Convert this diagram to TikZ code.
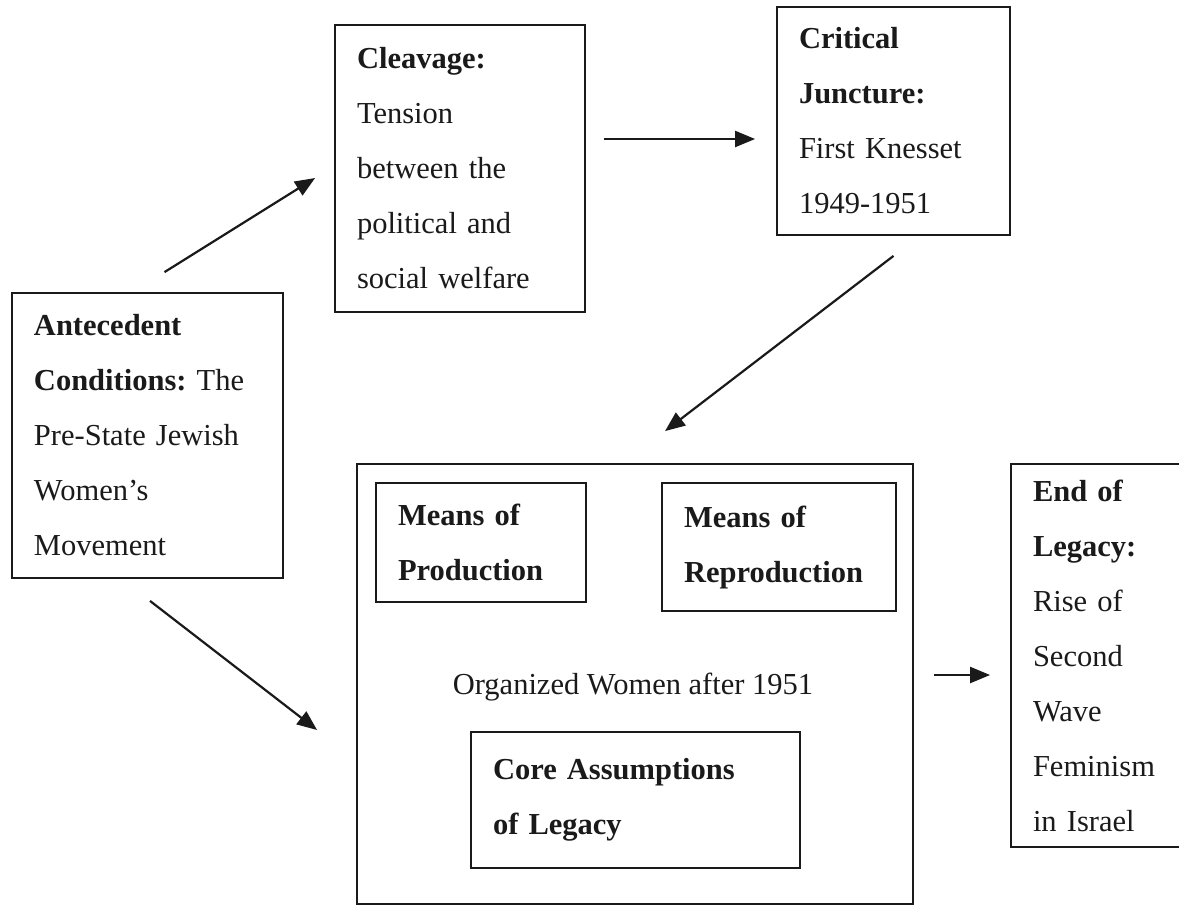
\documentclass[tikz,border=0pt]{standalone}
\usepackage{fontspec}
\setmainfont{Liberation Serif}
\usepackage{tikz}
\usetikzlibrary{
  arrows.meta,
  positioning,
  calc
}
\frenchspacing
\definecolor{isInk}{HTML}{1A1A1A}
\tikzset{
  stagebox/.style={
    draw=isInk, line width=1.8pt, align=left, inner xsep=22pt, inner ysep=0pt,
    font=\fontsize{30.5pt}{55pt}\selectfont, text=isInk
  },
  outerbox/.style={draw=isInk, line width=1.8pt},
  plain/.style={font=\fontsize{30.5pt}{55pt}\selectfont, text=isInk, inner sep=0pt},
  flowarrow/.style={-{Triangle[length=20pt, width=16pt]}, line width=2.2pt, isInk}
}

\begin{document}
\begin{tikzpicture}[x=1pt, y=-1pt]
  \useasboundingbox (0,0) rectangle (1179,906);

  % stages
  \node[stagebox, text width=227pt, minimum height=285pt] (ante) at (147.5,435.5)
    {\textbf{Antecedent}\\ \textbf{Conditions:} The\\ Pre-State Jewish\\ Women’s\\ Movement};
  \node[stagebox, text width=206pt, minimum height=287pt] (cleav) at (460,168.5)
    {\textbf{Cleavage:}\\ Tension\\ between the\\ political and\\ social welfare};
  \node[stagebox, text width=189pt, minimum height=228pt] (crit) at (893.5,121)
    {\textbf{Critical}\\ \textbf{Juncture:}\\ First Knesset\\ 1949-1951};

  % organized women after 1951
  \node[outerbox, minimum width=556pt, minimum height=440pt] (org) at (635,684) {};
  \node[stagebox, text width=166pt, minimum height=119pt] (prod) at (481,542.5)
    {\textbf{Means of}\\ \textbf{Production}};
  \node[stagebox, text width=190pt, minimum height=128pt] (reprod) at (779,547)
    {\textbf{Means of}\\ \textbf{Reproduction}};
  \node[plain] (orgtext) at (633,687) {Organized Women after 1951};
  \node[stagebox, text width=285pt, minimum height=136pt] (core) at (635.5,800)
    {\textbf{Core Assumptions}\\ \textbf{of Legacy}};

  \node[stagebox, text width=130pt, minimum height=383pt] (endleg) at (1098,655.5)
    {\textbf{End of}\\ \textbf{Legacy:}\\ Rise of\\ Second\\ Wave\\ Feminism\\ in Israel};

  % arrows
  \draw[flowarrow] ([xshift=17pt, yshift=20pt]ante.north) -- ([xshift=-19pt, yshift=-9.5pt]cleav.west);
  \draw[flowarrow] ([xshift=18pt, yshift=29.5pt]cleav.east) -- ([xshift=-21pt, yshift=-18pt]crit.west);
  \draw[flowarrow] ([yshift=-20pt]crit.south) -- ([xshift=30pt, yshift=32pt]org.north);
  \draw[flowarrow] ([xshift=2.5pt, yshift=-22pt]ante.south) -- ([xshift=-39pt, yshift=-46pt]org.west);
  \draw[flowarrow] ([xshift=20pt, yshift=9pt]org.east) -- ([xshift=-20pt, yshift=-19.5pt]endleg.west);
\end{tikzpicture}
\end{document}
